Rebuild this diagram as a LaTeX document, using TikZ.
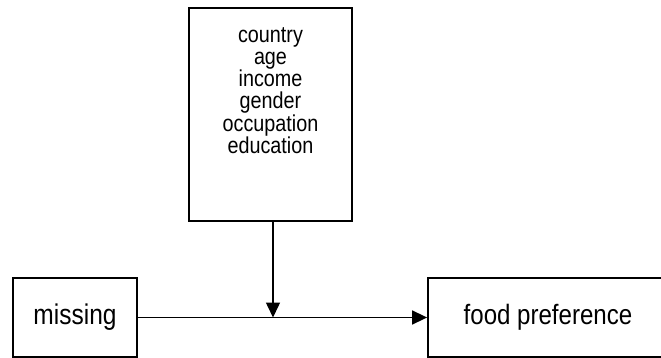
\documentclass[tikz,border=0pt]{standalone}
\usepackage{fontspec}
\setmainfont{Liberation Sans}[FakeStretch=0.86]
\usetikzlibrary{arrows.meta}

\begin{document}
\begin{tikzpicture}[x=1pt, y=-1pt, >={Triangle[length=15pt, width=14pt]},
    % Stil für die Kästen
        factorbox/.style={rectangle, draw=black, line width=1.8pt, inner sep=0pt},
    % Stil für die Pfeile
        relation/.style={->, draw=black, line width=1.5pt}]

        \useasboundingbox (0,0) rectangle (661,358);

        % Kästen
        \node[factorbox, minimum width=163pt, minimum height=213pt] (factors) at (270.5,114.5) {};
        \node[anchor=north, align=center, inner sep=0pt, font=\fontsize{23}{22.3}\selectfont] (factorlist) at (270.5,27)
            {country\\age\\income\\gender\\occupation\\education};
        \node[factorbox, minimum width=124pt, minimum height=79pt, font=\fontsize{28.5}{30}\selectfont] (missing) at (75,317.5) {missing};
        \node[factorbox, minimum width=240pt, minimum height=79pt, font=\fontsize{28}{30}\selectfont] (food) at (548,317.5) {food preference};

        % Pfeile
        \coordinate (join) at (273,317.5);
        \draw[relation] (missing) -- (food);
        \draw[relation] (join |- factors.south) -- (join);
    \end{tikzpicture}
\end{document}
